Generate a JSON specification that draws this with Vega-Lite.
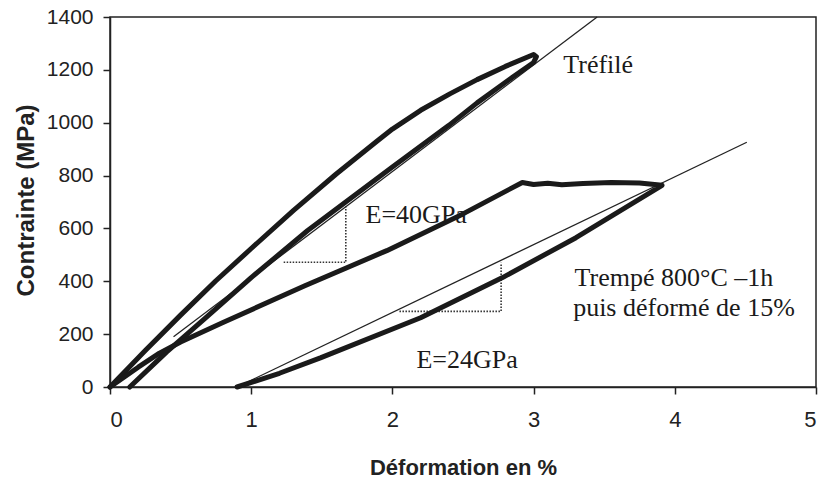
{
  "$schema": "https://vega.github.io/schema/vega-lite/v6.json",
  "width": 706,
  "height": 370,
  "autosize": {"type": "none"},
  "padding": {"left": 110, "top": 17, "right": 9, "bottom": 95},
  "background": "white",
  "config": {
    "view": {"stroke": "#222", "strokeWidth": 1.5},
    "axis": {"grid": false, "domainColor": "#222", "domainWidth": 1.5, "tickColor": "#222", "tickWidth": 1.5, "tickSize": 7, "labelColor": "#222", "titleColor": "#222", "labelFont": "Liberation Sans", "titleFont": "Liberation Sans", "titleFontWeight": "bold"}
  },
  "datasets": {
    "curves": [
      {"c": "Tréfilé", "i": 1, "x": 0, "y": 0},
      {"c": "Tréfilé", "i": 2, "x": 0.25, "y": 138},
      {"c": "Tréfilé", "i": 3, "x": 0.5, "y": 272},
      {"c": "Tréfilé", "i": 4, "x": 0.75, "y": 402},
      {"c": "Tréfilé", "i": 5, "x": 1.0, "y": 524},
      {"c": "Tréfilé", "i": 6, "x": 1.3, "y": 668},
      {"c": "Tréfilé", "i": 7, "x": 1.6, "y": 805},
      {"c": "Tréfilé", "i": 8, "x": 1.89, "y": 930},
      {"c": "Tréfilé", "i": 9, "x": 2.0, "y": 976},
      {"c": "Tréfilé", "i": 10, "x": 2.2, "y": 1047},
      {"c": "Tréfilé", "i": 11, "x": 2.41, "y": 1110},
      {"c": "Tréfilé", "i": 12, "x": 2.6, "y": 1163},
      {"c": "Tréfilé", "i": 13, "x": 2.8, "y": 1213},
      {"c": "Tréfilé", "i": 14, "x": 3.0, "y": 1258},
      {"c": "Tréfilé", "i": 15, "x": 3.02, "y": 1250},
      {"c": "Tréfilé", "i": 16, "x": 3.0, "y": 1228},
      {"c": "Tréfilé", "i": 17, "x": 2.85, "y": 1172},
      {"c": "Tréfilé", "i": 18, "x": 2.6, "y": 1075},
      {"c": "Tréfilé", "i": 19, "x": 2.4, "y": 990},
      {"c": "Tréfilé", "i": 20, "x": 2.0, "y": 832},
      {"c": "Tréfilé", "i": 21, "x": 1.4, "y": 592},
      {"c": "Tréfilé", "i": 22, "x": 1.0, "y": 414},
      {"c": "Tréfilé", "i": 23, "x": 0.673, "y": 260},
      {"c": "Tréfilé", "i": 24, "x": 0.4, "y": 132},
      {"c": "Tréfilé", "i": 25, "x": 0.14, "y": 0},
      {"c": "Trempé", "i": 1, "x": 0, "y": 0},
      {"c": "Trempé", "i": 2, "x": 0.2, "y": 75},
      {"c": "Trempé", "i": 3, "x": 0.35, "y": 128},
      {"c": "Trempé", "i": 4, "x": 0.5, "y": 170},
      {"c": "Trempé", "i": 5, "x": 0.8, "y": 244},
      {"c": "Trempé", "i": 6, "x": 1.38, "y": 383},
      {"c": "Trempé", "i": 7, "x": 1.96, "y": 516},
      {"c": "Trempé", "i": 8, "x": 2.5, "y": 655},
      {"c": "Trempé", "i": 9, "x": 2.92, "y": 774},
      {"c": "Trempé", "i": 10, "x": 3.0, "y": 766},
      {"c": "Trempé", "i": 11, "x": 3.1, "y": 771},
      {"c": "Trempé", "i": 12, "x": 3.2, "y": 765},
      {"c": "Trempé", "i": 13, "x": 3.35, "y": 770},
      {"c": "Trempé", "i": 14, "x": 3.55, "y": 774},
      {"c": "Trempé", "i": 15, "x": 3.75, "y": 772},
      {"c": "Trempé", "i": 16, "x": 3.91, "y": 763},
      {"c": "Trempé", "i": 17, "x": 3.3, "y": 565},
      {"c": "Trempé", "i": 18, "x": 2.78, "y": 414},
      {"c": "Trempé", "i": 19, "x": 2.2, "y": 262},
      {"c": "Trempé", "i": 20, "x": 1.49, "y": 110},
      {"c": "Trempé", "i": 21, "x": 1.2, "y": 52},
      {"c": "Trempé", "i": 22, "x": 0.9, "y": 0}
    ],
    "fits": [
      {"c": "Tréfilé", "x": 0.45, "y": 190},
      {"c": "Tréfilé", "x": 3.45, "y": 1400},
      {"c": "Trempé", "x": 0.9, "y": 0},
      {"c": "Trempé", "x": 4.51, "y": 926}
    ],
    "dots": [
      {"c": "Tréfilé", "i": 1, "x": 1.23, "y": 472},
      {"c": "Tréfilé", "i": 2, "x": 1.67, "y": 472},
      {"c": "Tréfilé", "i": 3, "x": 1.67, "y": 685},
      {"c": "Trempé", "i": 1, "x": 2.05, "y": 286},
      {"c": "Trempé", "i": 2, "x": 2.77, "y": 286},
      {"c": "Trempé", "i": 3, "x": 2.77, "y": 470}
    ],
    "labels": [
      {"t": "Tréfilé", "x": 3.21, "y": 1188},
      {"t": "E=40GPa", "x": 1.81, "y": 622},
      {"t": "Trempé 800°C –1h", "x": 3.29, "y": 383},
      {"t": "puis déformé de 15%", "x": 3.28, "y": 269},
      {"t": "E=24GPa", "x": 2.17, "y": 72}
    ]
  },
  "encoding": {
    "x": {"field": "x", "type": "quantitative", "scale": {"domain": [0, 5], "nice": false},
      "axis": {"values": [0, 1, 2, 3, 4, 5], "format": "d", "title": "Déformation en %", "labelFontSize": 22, "labelPadding": 15, "titleFontSize": 22, "titleBaseline": "alphabetic", "titleX": 353, "titleY": 87, "titleAnchor": "middle"}},
    "y": {"field": "y", "type": "quantitative", "scale": {"domain": [0, 1400], "nice": false},
      "axis": {"values": [0, 200, 400, 600, 800, 1000, 1200, 1400], "format": "d", "title": "Contrainte (MPa)", "labelFontSize": 21, "labelPadding": 10, "titleFontSize": 24, "titleAngle": -90, "titleBaseline": "alphabetic", "titleX": -77, "titleY": 183, "titleAlign": "center"}}
  },
  "layer": [
    {
      "data": {"name": "fits"},
      "mark": {"type": "line", "color": "#222", "strokeWidth": 1.3},
      "encoding": {"detail": {"field": "c"}}
    },
    {
      "data": {"name": "dots"},
      "mark": {"type": "line", "color": "#333", "strokeWidth": 1.6, "strokeDash": [1.5, 1.5]},
      "encoding": {"detail": {"field": "c"}, "order": {"field": "i", "type": "quantitative"}}
    },
    {
      "data": {"name": "curves"},
      "mark": {"type": "line", "color": "#1a1a1a", "strokeWidth": 5, "strokeJoin": "round", "strokeCap": "round", "interpolate": "linear"},
      "encoding": {"detail": {"field": "c"}, "order": {"field": "i", "type": "quantitative"}}
    },
    {
      "data": {"name": "labels"},
      "mark": {"type": "text", "font": "Liberation Serif", "fontSize": 26, "align": "left", "baseline": "alphabetic", "color": "#1a1a1a"},
      "encoding": {"text": {"field": "t"}}
    }
  ]
}
